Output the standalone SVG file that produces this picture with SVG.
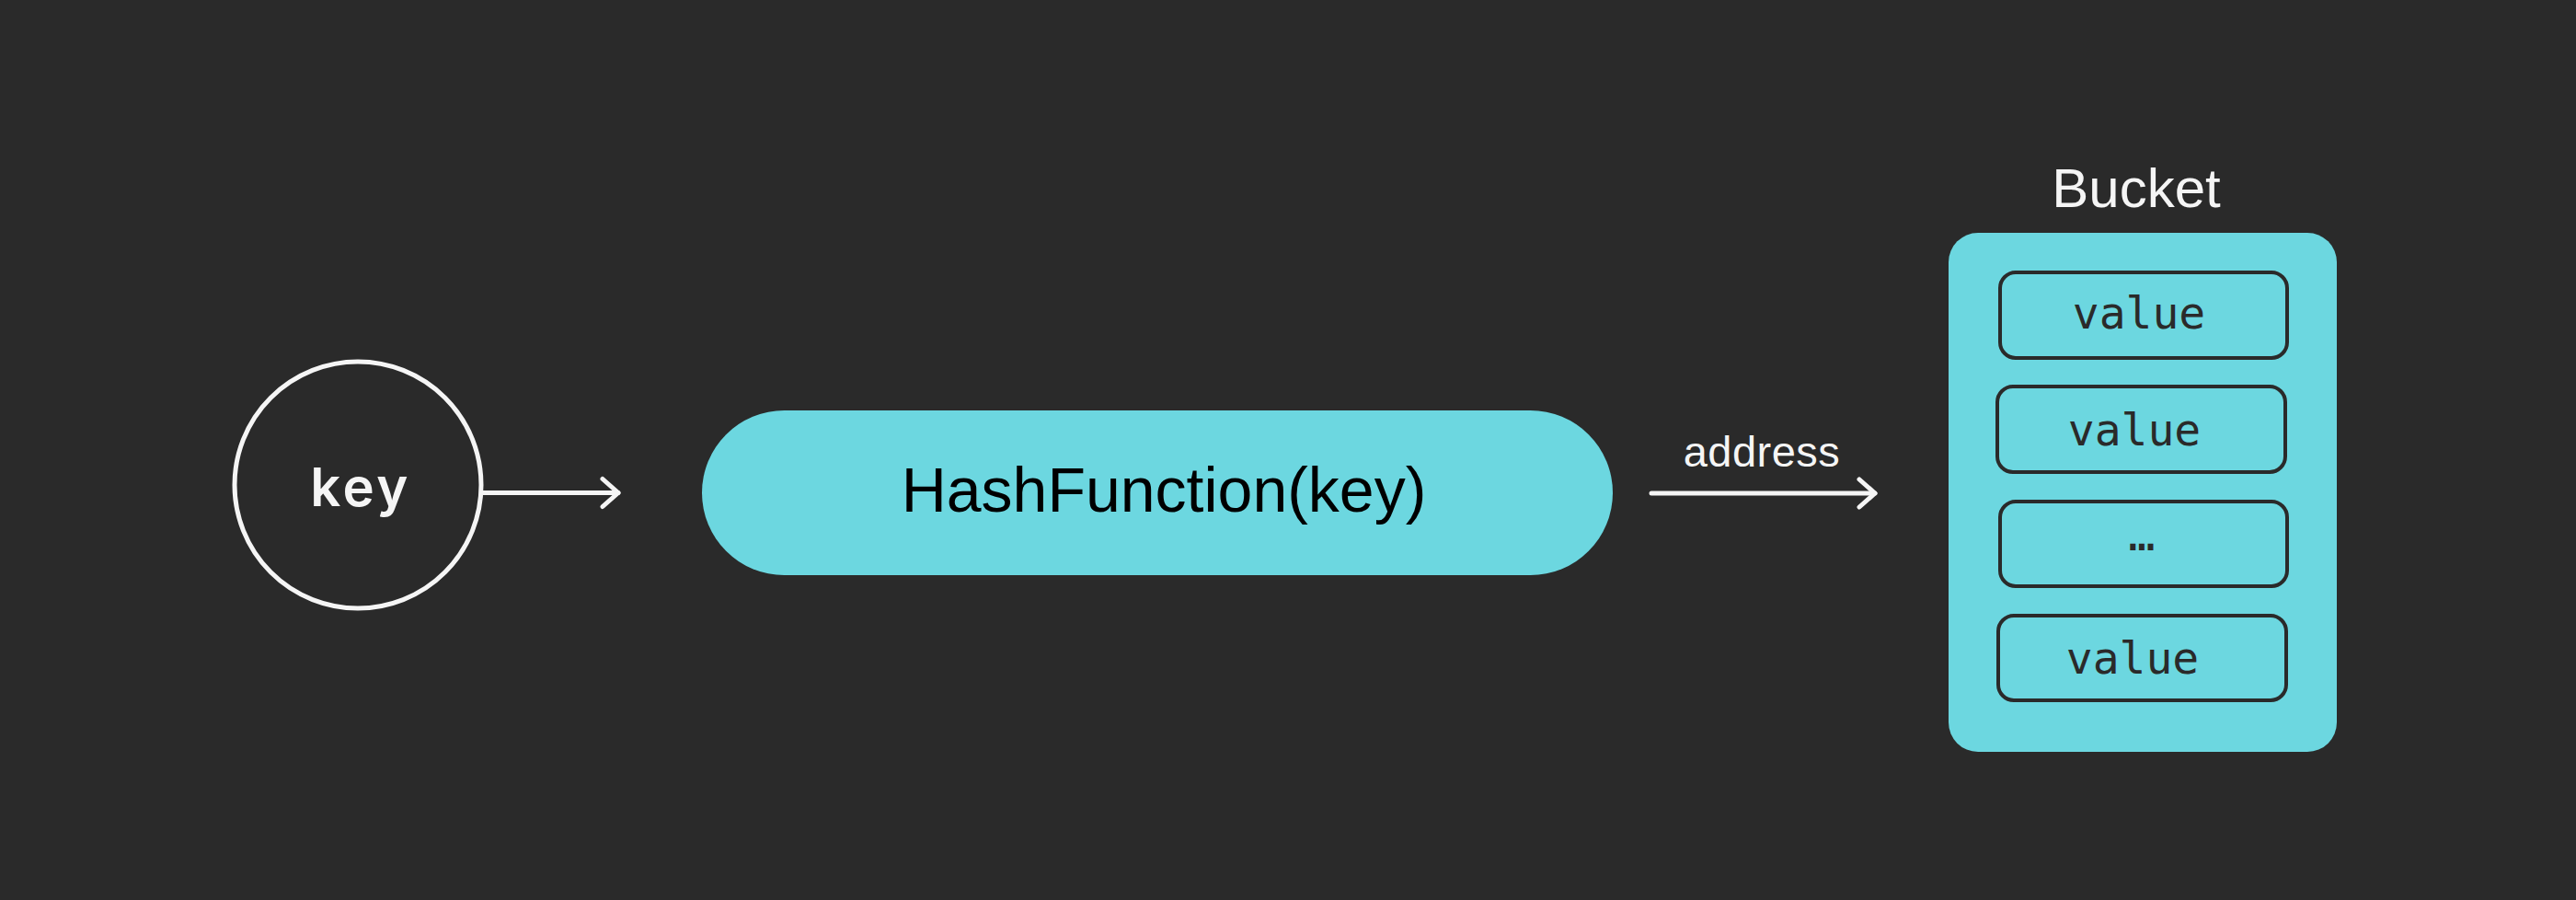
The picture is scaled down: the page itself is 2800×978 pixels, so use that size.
<svg xmlns="http://www.w3.org/2000/svg" width="2800" height="978" viewBox="0 0 2800 978">
<style>
.bg{fill:#2a2a2a}
.cyan{fill:#6cd7e0}
.slot{fill:#6cd7e0;stroke:#2a2a2a;stroke-width:4}
.mono{font-family:"DejaVu Sans Mono","Liberation Mono",monospace;font-size:48px;fill:#2a2a2a;text-anchor:middle}
.sans{font-family:"Liberation Sans",Arial,sans-serif;text-anchor:middle}
.conn{stroke:#f5f5f5;stroke-width:5;fill:none;stroke-linecap:round;stroke-linejoin:round}
</style>
<defs>
<marker id="chev" markerUnits="userSpaceOnUse" markerWidth="40" markerHeight="40" refX="20" refY="20" orient="auto" viewBox="0 0 40 40">
<path d="M3,5 L20,20 L3,35" fill="none" stroke="#f5f5f5" stroke-width="5" stroke-linecap="round" stroke-linejoin="round"/>
</marker>
</defs>
<rect class="bg" x="0" y="0" width="2800" height="978"/>
<g id="key">
<circle cx="389" cy="527" r="134" fill="none" stroke="#f5f5f5" stroke-width="5"/>
<text x="392" y="550" font-family="Inter,'Noto Sans',sans-serif" font-weight="600" font-size="58" letter-spacing="3.5" fill="#f5f5f5" text-anchor="middle">key</text>
</g>
<g id="hash">
<rect class="cyan" x="763" y="446" width="990" height="179" rx="89.5"/>
<text class="sans" x="1265" y="556" font-size="68" fill="#000">HashFunction(key)</text>
</g>
<g id="bucket">
<text class="sans" x="2322" y="225" font-size="60" fill="#f5f5f5">Bucket</text>
<rect class="cyan" x="2118" y="253" width="422" height="564" rx="32"/>
<rect class="slot" x="2174" y="296" width="312" height="93" rx="17"/>
<text class="mono" x="2325" y="357">value</text>
<rect class="slot" x="2171" y="420" width="313" height="93" rx="17"/>
<text class="mono" x="2320" y="484">value</text>
<rect class="slot" x="2174" y="545" width="312" height="92" rx="17"/>
<text class="mono" x="2328" y="598">…</text>
<rect class="slot" x="2172" y="669" width="313" height="92" rx="17"/>
<text class="mono" x="2318" y="732">value</text>
</g>
<g id="connectors">
<line class="conn" x1="525" y1="535.5" x2="672" y2="535.5" marker-end="url(#chev)"/>
<line class="conn" x1="1795" y1="536" x2="2038" y2="536" marker-end="url(#chev)"/>
<text class="sans" x="1915" y="507" font-size="47" fill="#f5f5f5" letter-spacing="0.5">address</text>
</g>
</svg>
